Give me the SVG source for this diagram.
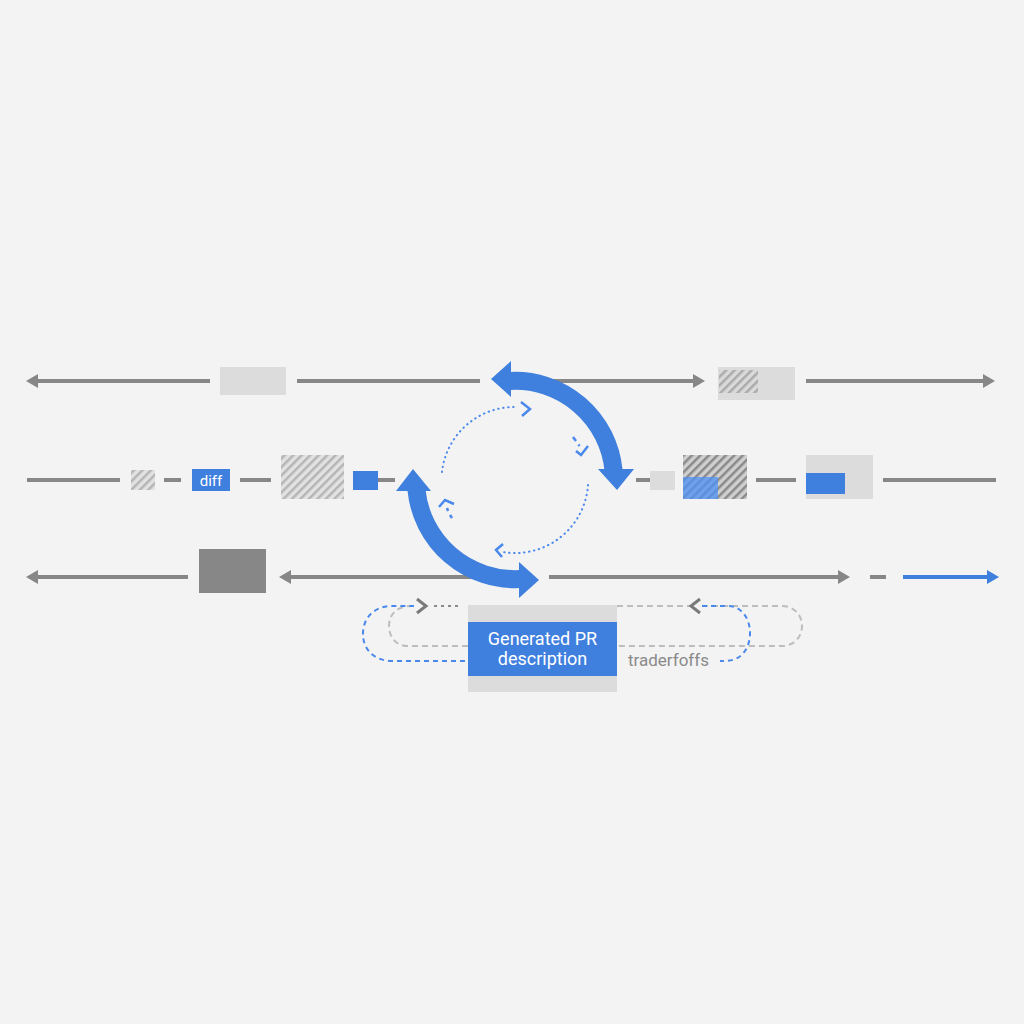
<svg xmlns="http://www.w3.org/2000/svg" width="1024" height="1024" viewBox="0 0 1024 1024">
<style>
.ln{stroke:#878787;stroke-width:4;fill:none}
.bl{stroke:#3f7fde;fill:none}
.dot{stroke:#4a88ec;stroke-width:2;stroke-dasharray:0.5 4.5;stroke-linecap:round;fill:none}
.chev{stroke:#4a88ec;stroke-width:2.5;fill:none;stroke-linejoin:miter}
.gchev{stroke:#7a7a7a;stroke-width:3;fill:none}
.bdash{stroke:#4a88ec;stroke-width:2;stroke-dasharray:5 4;fill:none}
.gdash{stroke:#bdbdbd;stroke-width:2;stroke-dasharray:6 4;fill:none}
.lt{fill:#dcdcdc}
.t{font-family:Roboto,"Liberation Sans",sans-serif}
</style>
<defs>
<marker id="ag" viewBox="0 0 12 14" refX="2" refY="7" markerWidth="12" markerHeight="14" markerUnits="userSpaceOnUse" orient="auto"><path d="M0 0 L12 7 L0 14 Z" fill="#878787"/></marker>
<marker id="ab" viewBox="0 0 12 14" refX="2" refY="7" markerWidth="12" markerHeight="14" markerUnits="userSpaceOnUse" orient="auto"><path d="M0 0 L12 7 L0 14 Z" fill="#3f7fde"/></marker>
<pattern id="h1" width="6" height="6" patternUnits="userSpaceOnUse" patternTransform="rotate(45)"><rect width="6" height="6" fill="#e2e2e2"/><rect width="2.5" height="6" fill="#b5b5b5"/></pattern>
<pattern id="h2" width="6" height="6" patternUnits="userSpaceOnUse" patternTransform="rotate(45)"><rect width="6" height="6" fill="#cfcfcf"/><rect width="2.5" height="6" fill="#8a8a8a"/></pattern>
<pattern id="h3" width="6" height="6" patternUnits="userSpaceOnUse" patternTransform="rotate(45)"><rect width="6" height="6" fill="#dadada"/><rect width="2.5" height="6" fill="#ababab"/></pattern>
</defs>
<rect width="1024" height="1024" fill="#f3f3f3"/>

<g id="connectors">
<line class="ln" x1="210" y1="381" x2="36" y2="381" marker-end="url(#ag)"/>
<line class="ln" x1="297" y1="381" x2="480" y2="381"/>
<line class="ln" x1="540" y1="381" x2="695" y2="381" marker-end="url(#ag)"/>
<line class="ln" x1="806" y1="381" x2="985" y2="381" marker-end="url(#ag)"/>
<line class="ln" x1="27" y1="480" x2="120" y2="480"/>
<line class="ln" x1="164" y1="480" x2="181" y2="480"/>
<line class="ln" x1="240" y1="480" x2="271" y2="480"/>
<line class="ln" x1="378" y1="480" x2="395" y2="480"/>
<line class="ln" x1="636" y1="480" x2="650" y2="480"/>
<line class="ln" x1="756" y1="480" x2="796" y2="480"/>
<line class="ln" x1="883" y1="480" x2="996" y2="480"/>
<line class="ln" x1="188" y1="577" x2="36" y2="577" marker-end="url(#ag)"/>
<line class="ln" x1="480" y1="577" x2="289" y2="577" marker-end="url(#ag)"/>
<line class="ln" x1="549" y1="577" x2="840" y2="577" marker-end="url(#ag)"/>
<line class="ln" x1="870" y1="577" x2="886" y2="577"/>
<line x1="903" y1="577" x2="989" y2="577" stroke="#3f7fde" stroke-width="4" marker-end="url(#ab)"/>

<path class="bl" stroke-width="18" d="M 510 381 A 99 99 0 0 1 613.5 470"/>
<polygon fill="#3f7fde" points="491,379 511,361 511,397"/>
<polygon fill="#3f7fde" points="617,490 598,469 634,469"/>
<path class="bl" stroke-width="18" d="M 416.5 490 A 99 99 0 0 0 520 579"/>
<polygon fill="#3f7fde" points="413,469 396,491 431,491"/>
<polygon fill="#3f7fde" points="539,580 519,562 519,598"/>

<path class="dot" d="M 442 472 A 73 73 0 0 1 517 407"/>
<polyline class="chev" points="521,402 530,409 522,416"/>
<path class="dot" d="M 588 485 A 73 73 0 0 1 503 552"/>
<polyline class="chev" points="503,544 496,550 502,557"/>
<line class="chev" x1="573" y1="437" x2="576" y2="441"/>
<line class="chev" x1="578.5" y1="444.5" x2="579.5" y2="446"/>
<polyline class="chev" points="576,451 581,455 588,446"/>
<polyline class="chev" points="439,507 445,500 454,504"/>
<line class="chev" x1="447" y1="508" x2="448" y2="511"/>
<line class="chev" x1="450" y1="515" x2="452" y2="518"/>

<path class="gdash" d="M 468 646 L 408 646 C 396 646 389 637 389 626 C 389 615 396 606 412 606"/>
<path class="bdash" d="M 465 661 L 392 661 C 375 661 363 650 363 634 C 363 617 375 606 392 606 L 414 606"/>
<polyline class="gchev" points="417,599 426,606 417,613"/>
<line x1="434" y1="606" x2="462" y2="606" stroke="#8a8a8a" stroke-width="2" stroke-dasharray="3 4"/>
<path class="gdash" d="M 617 606 L 690 606 M 702 606 L 782 606 C 794 606 802 615 802 626 C 802 637 794 646 782 646 L 617 646"/>
<path class="bdash" d="M 702 606 L 728 606 C 741 606 750 618 750 633 C 750 650 740 661 725 661 L 720 661"/>
<polyline class="gchev" points="700,599 691,606 700,613"/>
</g>

<g id="node-r1-box1"><rect class="lt" x="220" y="367" width="66" height="28"/></g>
<g id="node-r1-box2"><rect class="lt" x="718" y="367" width="77" height="33"/><rect x="719" y="370" width="39" height="23" fill="url(#h3)"/></g>
<g id="node-r2-hatch-small"><rect x="131" y="470" width="24" height="20" fill="url(#h1)"/></g>
<g id="node-diff"><rect x="192" y="469" width="38" height="22" fill="#3f7fde"/><text class="t" x="211" y="486" font-size="15" fill="#fff" text-anchor="middle">diff</text></g>
<g id="node-r2-hatch-big"><rect x="281" y="455" width="63" height="44" fill="url(#h1)"/></g>
<g id="node-r2-blue-sq"><rect x="353" y="471" width="25" height="19" fill="#3f7fde"/></g>
<g id="node-r2-light-sq"><rect class="lt" x="650" y="471" width="25" height="19"/></g>
<g id="node-r2-hatch-right"><rect x="683" y="455" width="64" height="44" fill="url(#h2)"/><rect x="683" y="477" width="35" height="22" fill="#4f90f5" opacity="0.75"/></g>
<g id="node-r2-box-right"><rect class="lt" x="806" y="455" width="67" height="44"/><rect x="806" y="473" width="39" height="21" fill="#3f7fde"/></g>
<g id="node-r3-dark"><rect x="199" y="549" width="67" height="44" fill="#878787"/></g>
<g id="node-pr">
<rect class="lt" x="468" y="605" width="149" height="87"/>
<rect x="468" y="622" width="149" height="54" fill="#3f7fde"/>
<text class="t" x="542.5" y="645" font-size="18" fill="#fff" text-anchor="middle">Generated PR</text>
<text class="t" x="542.5" y="665" font-size="18" fill="#fff" text-anchor="middle">description</text>
</g>
<g id="label-tradeoffs"><text class="t" x="628" y="666" font-size="17" fill="#8a8a8a">traderfoffs</text></g>
</svg>
